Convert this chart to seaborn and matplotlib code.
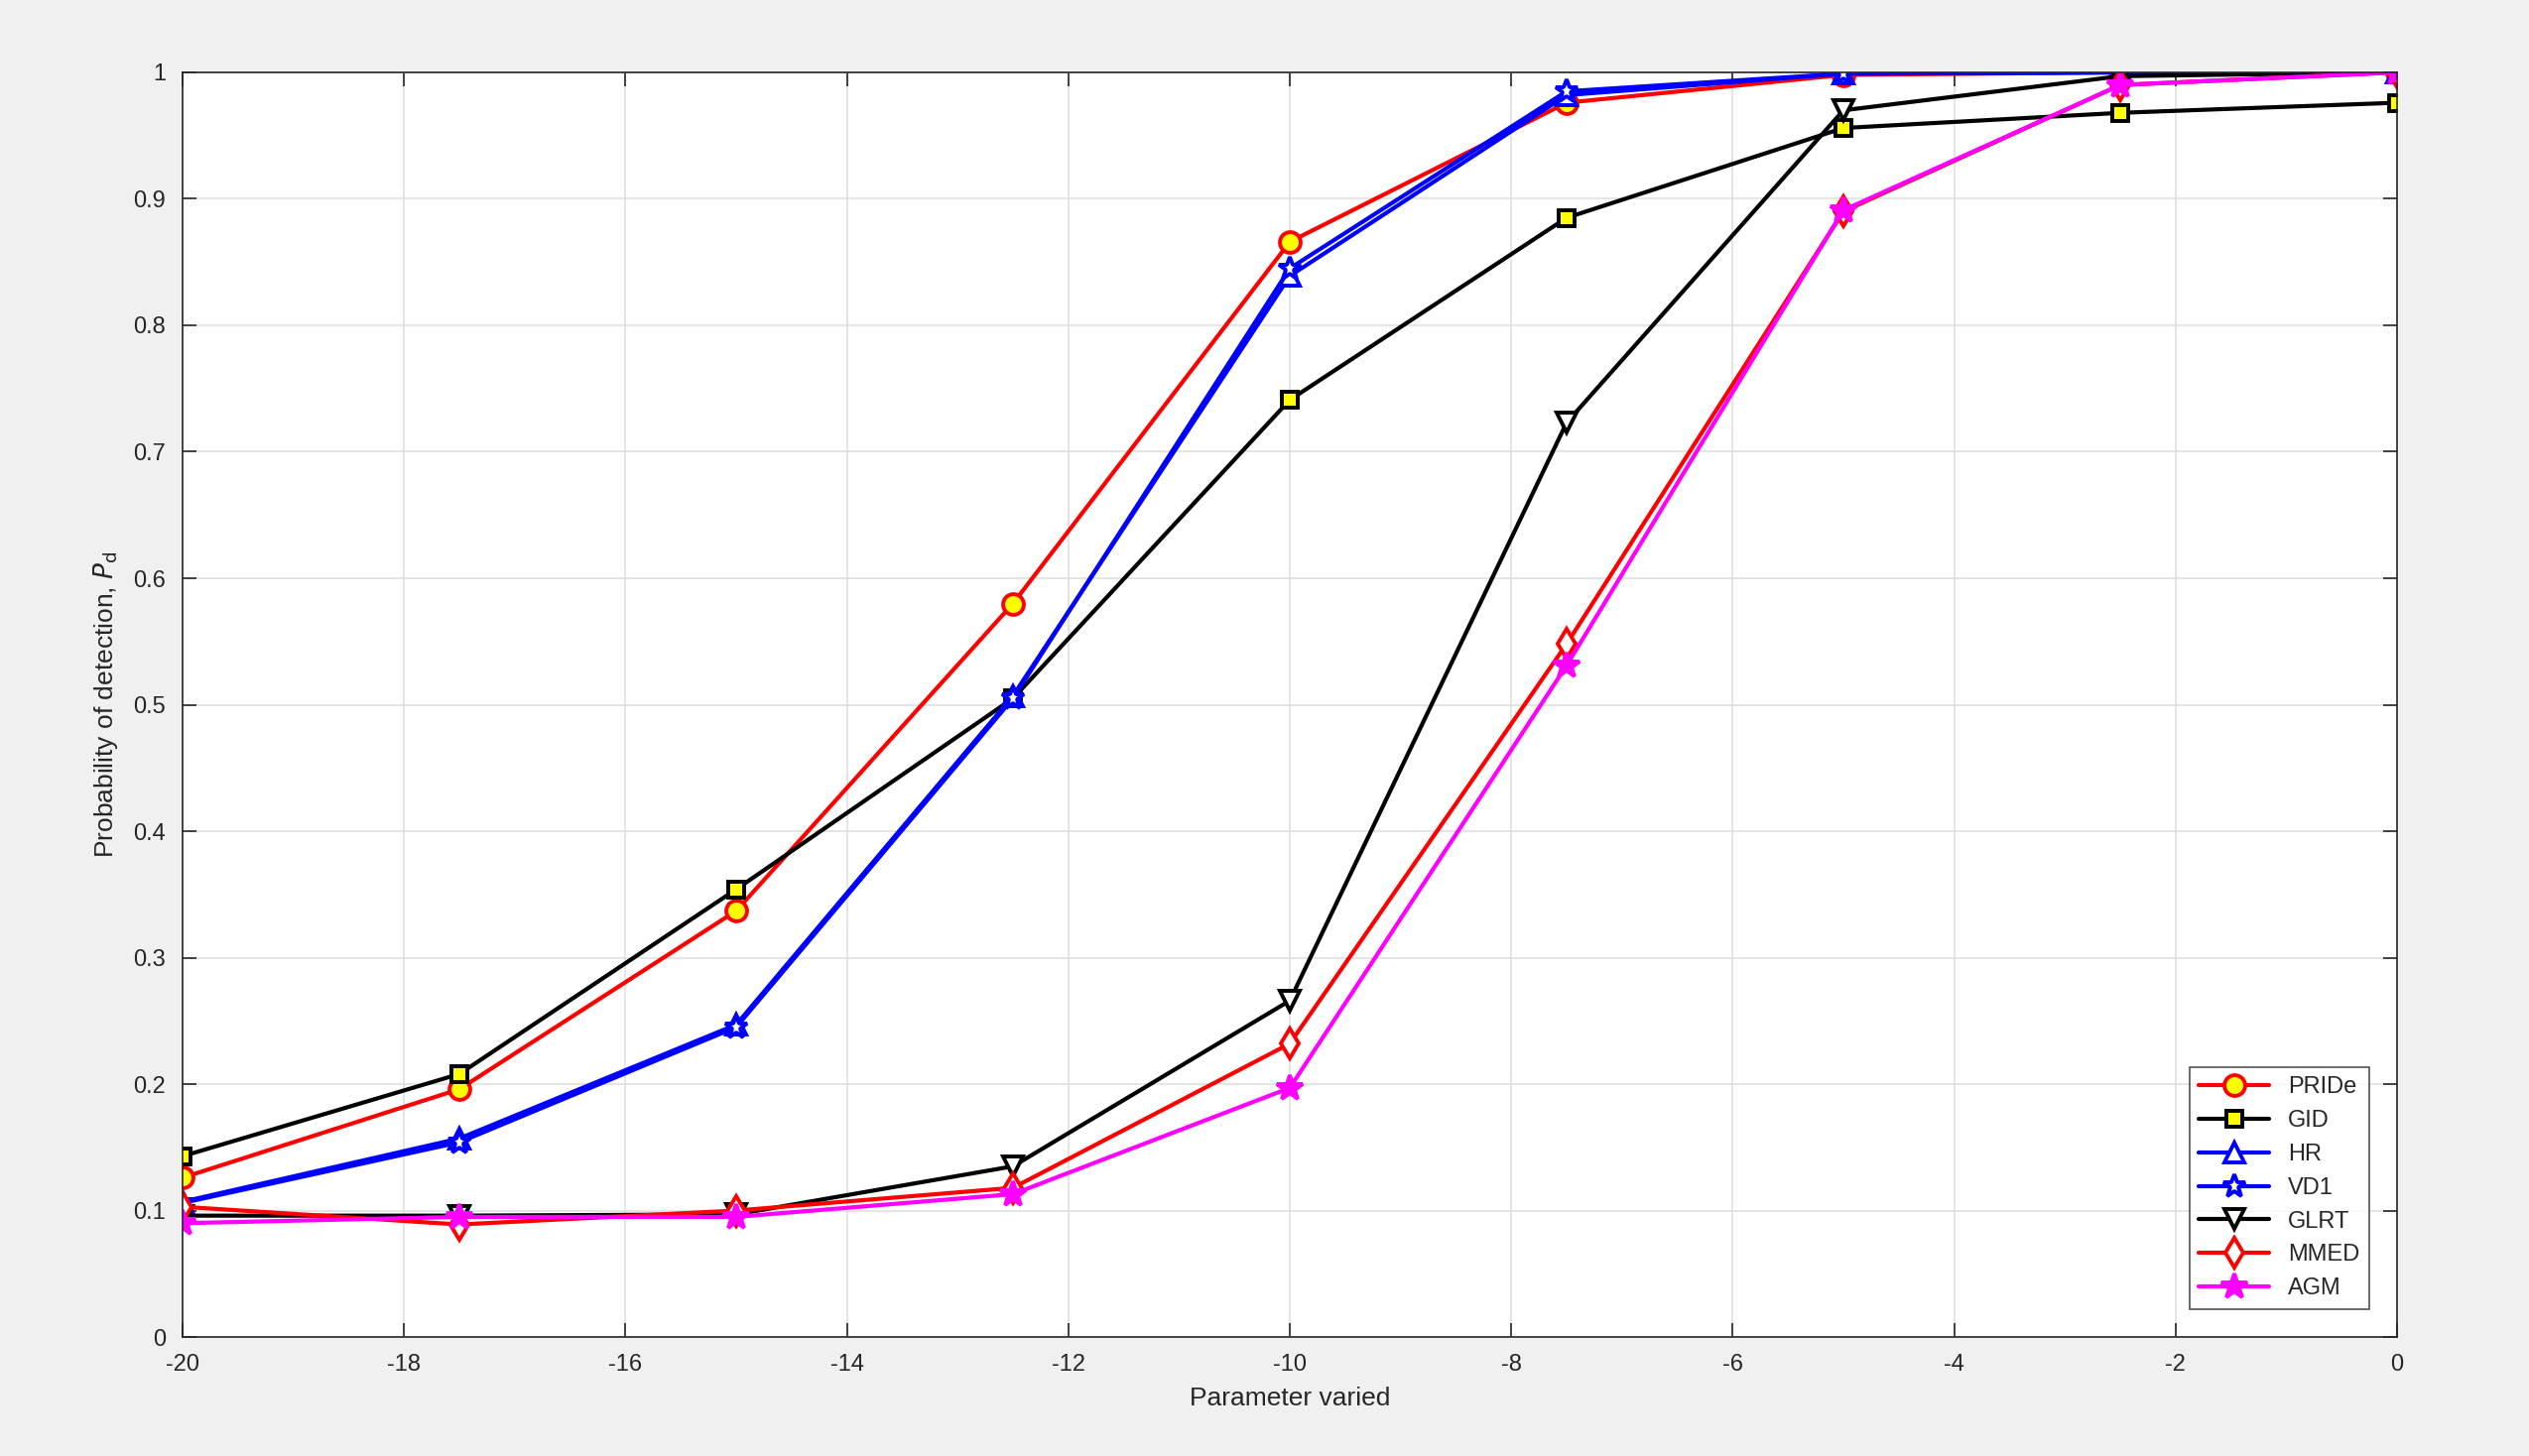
import numpy as np
import pandas as pd
import matplotlib
matplotlib.use("Agg")
import matplotlib.pyplot as plt
import seaborn as sns

x_vals = [-20, -17.5, -15, -12.5, -10, -7.5, -5, -2.5, 0]
pride = [0.126, 0.196, 0.337, 0.580, 0.866, 0.976, 0.998, 1.000, 1.000]
gid = [0.143, 0.208, 0.354, 0.505, 0.741, 0.885, 0.956, 0.968, 0.976]
hr = [0.107, 0.157, 0.247, 0.507, 0.839, 0.982, 0.999, 1.000, 1.000]
vd1 = [0.106, 0.154, 0.245, 0.505, 0.845, 0.985, 0.999, 1.000, 1.000]
glrt = [0.096, 0.096, 0.097, 0.135, 0.266, 0.723, 0.970, 0.997, 1.000]
mmed = [0.103, 0.089, 0.100, 0.118, 0.232, 0.548, 0.890, 0.990, 1.000]
agm = [0.090, 0.095, 0.095, 0.113, 0.197, 0.531, 0.891, 0.990, 1.000]

series = [
    ("PRIDe", pride, "red", "o", "yellow", 15),
    ("GID", gid, "black", "s", "yellow", 11),
    ("HR", hr, "blue", "^", "white", 15),
    ("VD1", vd1, "blue", "*", "white", 17),
    ("GLRT", glrt, "black", "v", "white", 15),
    ("MMED", mmed, "red", "d", "white", 15),
    ("AGM", agm, "magenta", "*", "magenta", 19),
]

sns.set_style("whitegrid")
plt.rcParams["font.family"] = ["Liberation Sans", "DejaVu Sans"]
plt.rcParams["axes.unicode_minus"] = False

fig = plt.figure(figsize=(25.49, 14.68), dpi=100, facecolor="#f0f0f0")
ax = fig.add_axes([0.0722, 0.0817, 0.8756, 0.8686])
ax.set_facecolor("white")

for name, vals, col, mk, fc, ms in series:
    df = pd.DataFrame({"x": x_vals, "y": vals})
    sns.lineplot(data=df, x="x", y="y", ax=ax, color=col, marker=mk, markersize=ms,
                 markerfacecolor=fc, markeredgecolor=col, markeredgewidth=2.8,
                 linewidth=3, label=name)

ax.set_xlim(-20, 0)
ax.set_ylim(0, 1)
ax.set_xticks(np.arange(-20, 1, 2))
ax.set_yticks(np.round(np.arange(0, 1.01, 0.1), 1))
ax.set_yticklabels(["0"] + [f"{v:.1f}" for v in np.arange(0.1, 1.0, 0.1)] + ["1"])
ax.grid(True, color="#e0e0e0", linewidth=1.2)
for s in ax.spines.values():
    s.set_color("#262626")
    s.set_linewidth(1.2)
ax.tick_params(labelsize=17, colors="#262626", direction="in", length=10, width=1.2,
               top=True, right=True, bottom=True, left=True, pad=12)
ax.set_xlabel("Parameter varied", fontsize=19, color="#262626", labelpad=8)
ax.set_ylabel("Probability of detection, $P_\\mathrm{d}$", fontsize=19, color="#262626", labelpad=10)

leg = ax.legend(loc="lower right", fontsize=17, frameon=True, fancybox=False,
                edgecolor="#262626", borderaxespad=1.2, handlelength=3)
leg.get_frame().set_linewidth(1.2)

fig.savefig("out.png", dpi=100, facecolor=fig.get_facecolor())
